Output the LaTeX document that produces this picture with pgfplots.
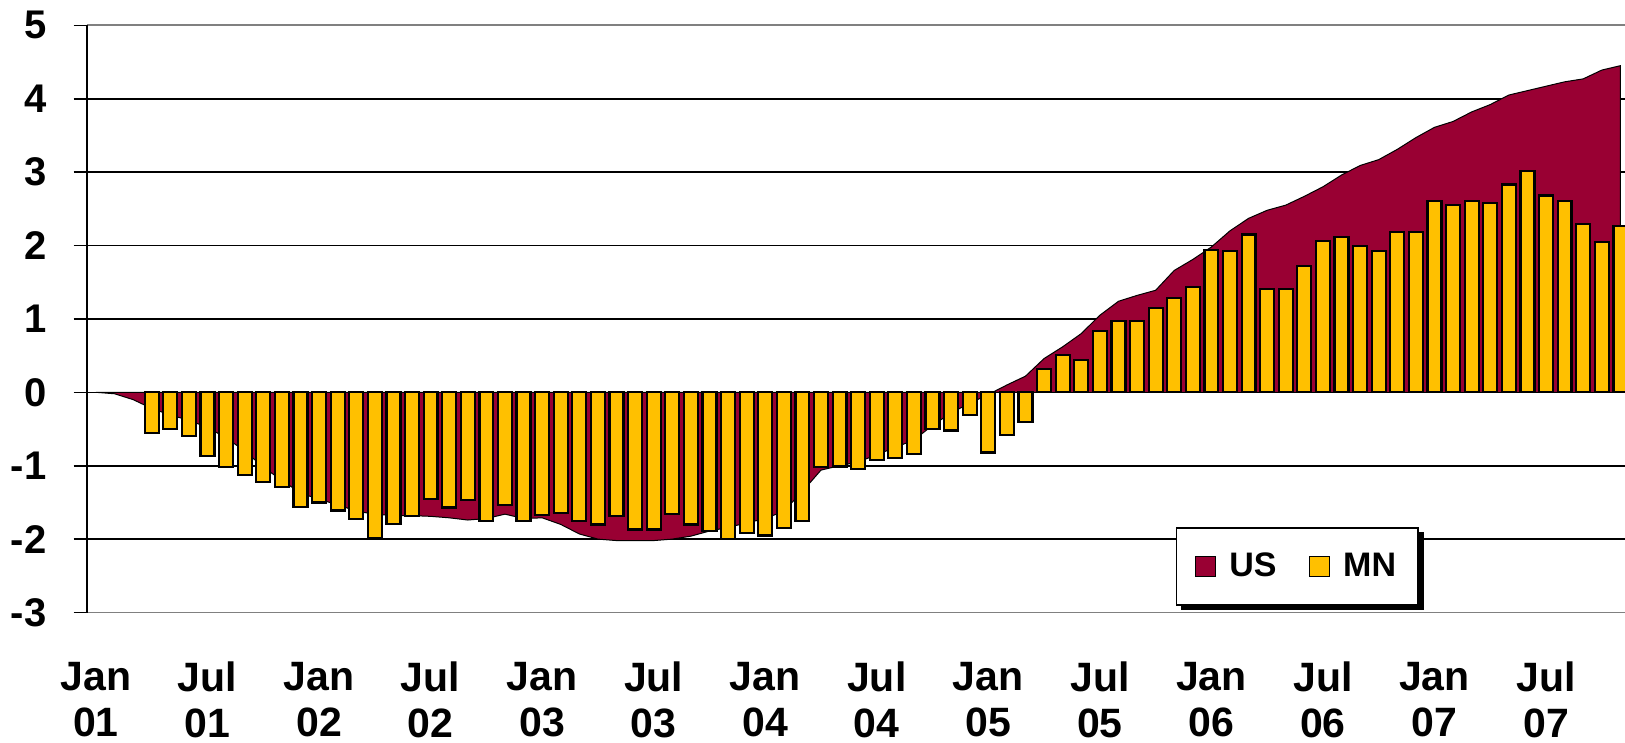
\documentclass[border=0pt]{standalone}
\usepackage{pgfplots}
\pgfplotsset{compat=1.18}
\usepackage{fontspec}
\setmainfont{Liberation Sans}
\definecolor{usred}{RGB}{153,0,51}
\definecolor{mngold}{RGB}{255,192,0}
\begin{document}
\begin{tikzpicture}
\begin{axis}[
  at={(0,0)}, anchor=south west,
  scale only axis,
  width=769.15pt, height=293.6pt,
  xmin=-0.5, xmax=82.25,
  ymin=-3, ymax=5,
  axis y line*=left,
  x axis line style={draw=gray, line width=0.9pt},
  y axis line style={draw=black, line width=0.9pt},
  ytick={-3,-2,-1,0,1,2,3,4,5},
  yticklabels={-3,-2,-1,0,1,2,3,4,5},
  ymajorgrids,
  major grid style={draw=black, line width=0.8pt},
  tick align=outside,
  major tick length=6.5pt,
  ytick style={draw=black, line width=0.8pt},
  xtick style={draw=none},
  xtick={0,6,12,18,24,30,36,42,48,54,60,66,72,78},
  xticklabels={{Jan\\01},{Jul\\01},{Jan\\02},{Jul\\02},{Jan\\03},{Jul\\03},{Jan\\04},{Jul\\04},{Jan\\05},{Jul\\05},{Jan\\06},{Jul\\06},{Jan\\07},{Jul\\07}},
  xticklabel style={align=center, font=\fontsize{20.5}{23}\selectfont\bfseries, anchor=north, inner sep=0pt, yshift=-18pt},
  yticklabel style={font=\fontsize{20}{22}\selectfont\bfseries, anchor=east, inner sep=0pt, xshift=-13.5pt},
  legend style={name=leg, at={(axis cs:58.1,-1.84)}, anchor=north west, draw=black, line width=0.7pt, fill=white,
    font=\fontsize{17}{20}\selectfont\bfseries, inner xsep=9pt, inner ysep=10.5pt,
    /tikz/every even column/.append style={column sep=14pt},
    /tikz/every odd column/.append style={column sep=4.5pt}},
  legend columns=2,
]
\addplot[fill=usred, draw=black, line width=0.5pt,
  legend image code/.code={\draw[draw=black, line width=0.8pt, fill=usred] (0pt,-5pt) rectangle (10pt,5pt);}]
coordinates {
(0,0) (1,-0.02) (2,-0.1) (3,-0.22) (4,-0.31) (5,-0.38) (6,-0.48) (7,-0.62) (8,-0.8) (9,-1.02)
(10,-1.2) (11,-1.37) (12,-1.46) (13,-1.53) (14,-1.62) (15,-1.66) (16,-1.68) (17,-1.68) (18,-1.69) (19,-1.71)
(20,-1.74) (21,-1.72) (22,-1.66) (23,-1.72) (24,-1.71) (25,-1.8) (26,-1.93) (27,-2.0) (28,-2.02) (29,-2.02)
(30,-2.02) (31,-2.0) (32,-1.96) (33,-1.89) (34,-1.84) (35,-1.78) (36,-1.72) (37,-1.62) (38,-1.35) (39,-1.06)
(40,-1.0) (41,-0.95) (42,-0.85) (43,-0.75) (44,-0.65) (45,-0.45) (46,-0.28) (47,-0.15) (48,-0.03) (49,0.1)
(50,0.22) (51,0.46) (52,0.62) (53,0.8) (54,1.05) (55,1.24) (56,1.32) (57,1.39) (58,1.66) (59,1.81)
(60,1.98) (61,2.2) (62,2.37) (63,2.48) (64,2.55) (65,2.67) (66,2.8) (67,2.96) (68,3.09) (69,3.17)
(70,3.31) (71,3.47) (72,3.61) (73,3.69) (74,3.82) (75,3.92) (76,4.05) (77,4.11) (78,4.17) (79,4.23)
(80,4.27) (81,4.39) (82,4.45) (82,0)
} -- cycle;
\addlegendentry{US}
\addplot[ybar, bar width=0.75, fill=mngold, draw=black, line width=1.1pt,
  legend image code/.code={\draw[draw=black, line width=0.8pt, fill=mngold] (0pt,-5pt) rectangle (10pt,5pt);}]
coordinates {
(3,-0.55) (4,-0.50) (5,-0.60) (6,-0.87) (7,-1.02) (8,-1.13) (9,-1.22)
(10,-1.29) (11,-1.56) (12,-1.50) (13,-1.61) (14,-1.73) (15,-1.98) (16,-1.79) (17,-1.69) (18,-1.45) (19,-1.57)
(20,-1.47) (21,-1.75) (22,-1.53) (23,-1.75) (24,-1.67) (25,-1.64) (26,-1.75) (27,-1.80) (28,-1.68) (29,-1.87)
(30,-1.87) (31,-1.66) (32,-1.80) (33,-1.89) (34,-2.00) (35,-1.92) (36,-1.95) (37,-1.85) (38,-1.75) (39,-1.02)
(40,-1.01) (41,-1.05) (42,-0.92) (43,-0.90) (44,-0.84) (45,-0.50) (46,-0.52) (47,-0.31) (48,-0.82) (49,-0.58)
(50,-0.41) (51,0.32) (52,0.51) (53,0.44) (54,0.83) (55,0.97) (56,0.97) (57,1.15) (58,1.28) (59,1.43)
(60,1.94) (61,1.93) (62,2.15) (63,1.41) (64,1.41) (65,1.72) (66,2.06) (67,2.12) (68,1.99) (69,1.93)
(70,2.18) (71,2.18) (72,2.61) (73,2.55) (74,2.61) (75,2.58) (76,2.83) (77,3.01) (78,2.68) (79,2.61)
(80,2.29) (81,2.05) (82,2.27)
};
\addlegendentry{MN}
\end{axis}
\fill[black] ([xshift=2.5pt]leg.south west) rectangle ([xshift=2.5pt,yshift=-2.5pt]leg.south east);
\fill[black] ([yshift=-2.5pt]leg.north east) rectangle ([xshift=2.5pt,yshift=-2.5pt]leg.south east);
\pgfresetboundingbox
\path (-43.35pt,-65.25pt) rectangle (769.15pt,306.25pt);
\end{tikzpicture}
\end{document}
